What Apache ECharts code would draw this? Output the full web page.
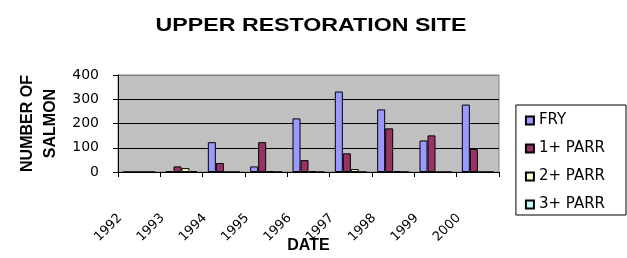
<!DOCTYPE html>
<html>
<head>
<meta charset="utf-8">
<script src="https://cdn.jsdelivr.net/npm/echarts@6/dist/echarts.min.js"></script>
<style>
html,body{margin:0;padding:0;background:#fff;}
#chart{width:627px;height:258px;}
</style>
</head>
<body>
<div id="chart"></div>
<script>
const categories = ['1992','1993','1994','1995','1996','1997','1998','1999','2000'];
const fry   = [0, 3, 123, 23, 221, 332, 258, 130, 278];
const parr1 = [0, 23, 37, 123, 49, 77, 180, 151, 95];
const parr2 = [0, 16, 0, 4, 4, 12, 4, 0, 0];
const parr3 = [0, 4, 0, 0, 0, 0, 0, 0, 0];
const seriesNames = ['FRY', '1+ PARR', '2+ PARR', '3+ PARR'];
const seriesColors = ['#9999FF', '#993366', '#FFFFCC', '#CCFFFF'];
const yTicks = [0, 100, 200, 300, 400];
const titleText = 'UPPER RESTORATION SITE';

const font = 'Liberation Sans, Arial, sans-serif';
const wide = 'DejaVu Sans, Liberation Sans, sans-serif';

const chart = echarts.init(document.getElementById('chart'), null, {renderer: 'canvas'});
const dataSets = [fry, parr1, parr2, parr3];

chart.setOption({
  animation: false,
  backgroundColor: '#ffffff',
  graphic: [{
    type: 'text',
    x: 311,
    y: 26,
    scaleX: 1.22,
    style: {
      text: titleText,
      x: 0, y: 0,
      textAlign: 'center',
      textVerticalAlign: 'middle',
      fill: '#000',
      font: 'bold 19px Liberation Sans, Arial, sans-serif'
    }
  }],
  legend: {
    orient: 'vertical',
    right: 1,
    top: 105,
    padding: [8, 21, 3, 9],
    itemGap: 13,
    itemWidth: 8,
    itemHeight: 8,
    borderColor: '#000',
    borderWidth: 1,
    icon: 'rect',
    data: seriesNames,
    textStyle: {fontFamily: wide, fontSize: 15, color: '#000'}
  },
  grid: {
    left: 118, right: 128, top: 75, bottom: 86,
    containLabel: false,
    outerBoundsMode: 'none',
    show: true,
    backgroundColor: '#C0C0C0',
    borderColor: '#808080',
    borderWidth: 1
  },
  xAxis: {
    type: 'category',
    data: categories,
    boundaryGap: true,
    name: 'DATE',
    nameLocation: 'middle',
    nameGap: 66,
    nameMoveOverlap: false,
    nameTextStyle: {fontFamily: font, fontWeight: 'bold', fontSize: 16, color: '#000'},
    axisLine: {show: true, lineStyle: {color: '#000', width: 1}},
    axisTick: {show: true, alignWithLabel: false, length: 5, lineStyle: {color: '#000'}},
    axisLabel: {
      rotate: 45,
      margin: 25,
      padding: [0, 27, 0, 0],
      fontFamily: wide,
      fontSize: 13,
      color: '#000',
      interval: 0
    },
    splitLine: {show: false}
  },
  yAxis: {
    type: 'value',
    min: yTicks[0],
    max: yTicks[yTicks.length - 1],
    interval: 100,
    name: 'NUMBER OF\nSALMON',
    nameLocation: 'middle',
    nameRotate: 90,
    nameGap: 56,
    nameMoveOverlap: false,
    nameTextStyle: {fontFamily: font, fontWeight: 'bold', fontSize: 16, color: '#000', lineHeight: 23},
    axisLine: {show: true, lineStyle: {color: '#000', width: 1}},
    axisTick: {show: true, length: 5, lineStyle: {color: '#000'}},
    axisLabel: {margin: 19, fontFamily: wide, fontSize: 14, color: '#000'},
    splitLine: {show: true, lineStyle: {color: ['#000', '#000', '#000', '#000', '#808080'], width: 1}}
  },
  series: dataSets.map((d, i) => ({
    name: seriesNames[i],
    type: 'bar',
    data: d,
    barWidth: 8,
    barGap: '0%',
    itemStyle: {color: seriesColors[i], borderColor: '#000', borderWidth: 1}
  }))
});
</script>
</body>
</html>
